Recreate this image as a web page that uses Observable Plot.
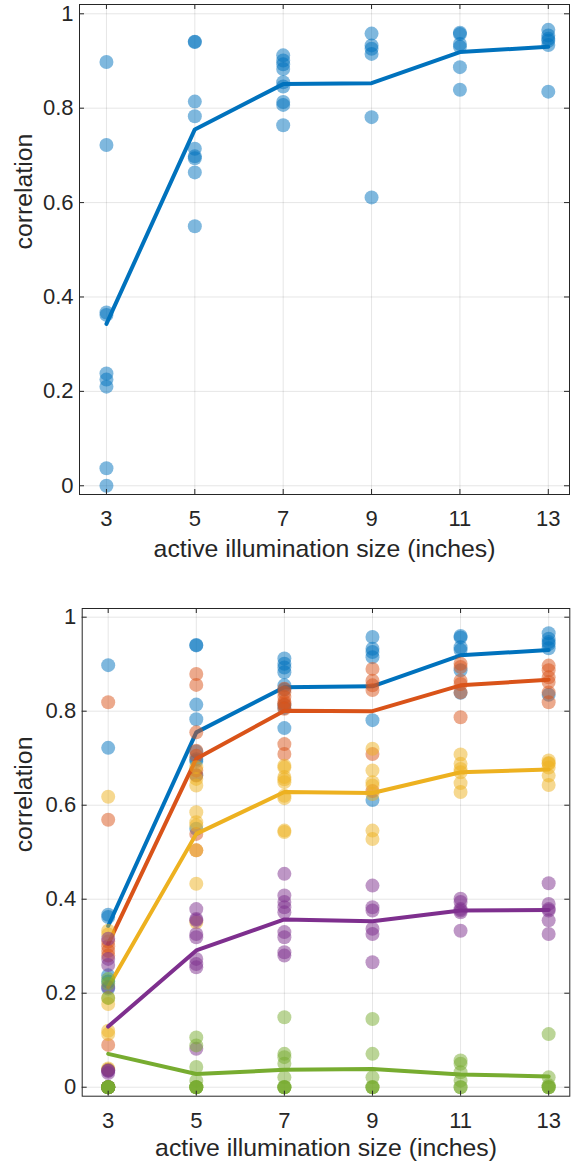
<!DOCTYPE html>
<html><head><meta charset="utf-8">
<script src="https://cdn.jsdelivr.net/npm/d3@7"></script>
<script src="https://cdn.jsdelivr.net/npm/@observablehq/plot@0.6"></script>
<style>body{margin:0;background:#fff;} #c svg{display:block;}</style>
</head><body><div id="c"></div>
<script>
// illumination sizes (x categories) and tick labels
const sizes = [3, 5, 7, 9, 11, 13];
const yTicks = [0, 0.2, 0.4, 0.6, 0.8, 1];
const xLabel = "active illumination size (inches)";
const yLabel = "correlation";

// per-series point values, one list per size
const blue = [
  [0.898, 0.722, 0.367, 0.362, 0.238, 0.225, 0.210, 0.037, 0.0],
  [0.941, 0.940, 0.814, 0.783, 0.714, 0.698, 0.694, 0.664, 0.550],
  [0.912, 0.901, 0.893, 0.883, 0.855, 0.846, 0.813, 0.807, 0.764],
  [0.958, 0.933, 0.926, 0.915, 0.781, 0.611],
  [0.960, 0.957, 0.936, 0.930, 0.887, 0.839],
  [0.966, 0.954, 0.947, 0.943, 0.934, 0.835]
];
const orange = [
  [0.819, 0.569, 0.310, 0.300, 0.290, 0.280, 0.090, 0.037, 0.0],
  [0.879, 0.856, 0.755, 0.716, 0.705, 0.674, 0.663, 0.539, 0.504],
  [0.848, 0.840, 0.830, 0.820, 0.816, 0.812, 0.805, 0.730, 0.709],
  [0.890, 0.865, 0.855, 0.845, 0.709, 0.630],
  [0.901, 0.894, 0.865, 0.858, 0.840, 0.787],
  [0.897, 0.887, 0.872, 0.862, 0.840, 0.819]
];
const yellow = [
  [0.618, 0.333, 0.325, 0.190, 0.177, 0.120, 0.113, 0.040, 0.0],
  [0.681, 0.656, 0.642, 0.585, 0.564, 0.557, 0.504, 0.433, 0.351],
  [0.684, 0.680, 0.660, 0.655, 0.649, 0.620, 0.615, 0.546, 0.543],
  [0.720, 0.674, 0.649, 0.642, 0.624, 0.546, 0.528],
  [0.708, 0.688, 0.677, 0.670, 0.647, 0.628],
  [0.695, 0.690, 0.688, 0.680, 0.663, 0.643]
];
const purple = [
  [0.316, 0.273, 0.260, 0.213, 0.035, 0.035, 0.030, 0.0, 0.0],
  [0.379, 0.358, 0.355, 0.326, 0.319, 0.273, 0.262, 0.255, 0.082],
  [0.454, 0.408, 0.394, 0.383, 0.372, 0.330, 0.319, 0.287, 0.280],
  [0.429, 0.383, 0.376, 0.337, 0.326, 0.266],
  [0.401, 0.394, 0.379, 0.376, 0.372, 0.333],
  [0.434, 0.390, 0.379, 0.376, 0.355, 0.326]
];
const green = [
  [0.230, 0.220, 0.190, 0.0, 0.0, 0.0, 0.0, 0.0, 0.0],
  [0.106, 0.089, 0.043, 0.014, 0.0, 0.0, 0.0, 0.0, 0.0],
  [0.149, 0.071, 0.064, 0.050, 0.021, 0.0, 0.0, 0.0, 0.0],
  [0.145, 0.071, 0.021, 0.0, 0.0, 0.0],
  [0.057, 0.050, 0.032, 0.014, 0.0, 0.0],
  [0.113, 0.021, 0.004, 0.0, 0.0, 0.0]
];

// mean lines
const blueMean   = [0.343, 0.755, 0.851, 0.853, 0.919, 0.930];
const orangeMean = [0.305, 0.699, 0.801, 0.800, 0.855, 0.867];
const yellowMean = [0.213, 0.539, 0.628, 0.626, 0.670, 0.676];
const purpleMean = [0.129, 0.291, 0.357, 0.353, 0.376, 0.377];
const greenMean  = [0.071, 0.028, 0.037, 0.039, 0.027, 0.023];

const colors = ["#0072BD", "#D95319", "#EDB120", "#7E2F8E", "#77AC30"];

function pointsOf(vals) { return vals.flatMap((col, i) => col.map(v => ({x: sizes[i], y: v}))); }
function lineOf(means) { return means.map((v, i) => ({x: sizes[i], y: v})); }

function panel(series, o) {
  const W = 572;
  const plotW = W - o.ml - o.mr, plotH = o.height - o.mt - o.mb;
  const ink = "#262626";
  const marks = [
    Plot.gridX(sizes, {stroke: "#000", strokeOpacity: 0.1}),
    Plot.gridY(yTicks, {stroke: "#000", strokeOpacity: 0.1}),
    Plot.axisX(sizes, {tickSize: 0, tickPadding: 16, fontSize: 22, color: ink, label: null}),
    Plot.axisY(yTicks, {tickSize: 0, tickPadding: 6, fontSize: 22, color: ink, tickFormat: d => String(d), label: null}),
    Plot.text([xLabel], {frameAnchor: "bottom", lineAnchor: "bottom", dy: o.xlo, fontSize: 24.8, fill: ink}),
    Plot.text([yLabel], {frameAnchor: "left", lineAnchor: "bottom", rotate: -90, dx: -o.ylo, fontSize: 24.8, fill: ink})
  ];
  series.forEach(([pts, mean], i) => {
    marks.push(Plot.dot(pointsOf(pts), {x: "x", y: "y", r: 7, fill: colors[i], fillOpacity: 0.5}));
    marks.push(Plot.line(lineOf(mean), {x: "x", y: "y", stroke: colors[i], strokeWidth: 4}));
  });
  marks.push(
    Plot.tickX(sizes, {x: d => d, insetBottom: plotH - 5, stroke: ink}),
    Plot.tickX(sizes, {x: d => d, insetTop: plotH - 5, stroke: ink}),
    Plot.tickY(yTicks, {y: d => d, insetRight: plotW - 5, stroke: ink}),
    Plot.tickY(yTicks, {y: d => d, insetLeft: plotW - 5, stroke: ink}),
    Plot.frame({stroke: ink})
  );
  return Plot.plot({
    width: W, height: o.height,
    marginTop: o.mt, marginBottom: o.mb, marginLeft: o.ml, marginRight: o.mr,
    x: {domain: o.xdom, axis: null}, y: {domain: o.ydom, axis: null},
    style: {fontFamily: "'Liberation Sans', Arial, Helvetica, sans-serif", fontSize: "22px", color: ink, background: "#fff"},
    marks
  });
}

const c = document.getElementById("c");
c.append(panel([[blue, blueMean]],
  {height: 580, mt: 4, mb: 86, ml: 79, mr: 3, xdom: [2.39, 13.48], ydom: [-0.0185, 1.0197], xlo: 62, ylo: 48}));
c.append(panel([[blue, blueMean], [orange, orangeMean], [yellow, yellowMean], [purple, purpleMean], [green, greenMean]],
  {height: 582, mt: 28, mb: 66.3, ml: 81.7, mr: 2.7, xdom: [2.41, 13.48], ydom: [-0.0191, 1.0185], xlo: 60, ylo: 50}));
</script>
</body></html>
